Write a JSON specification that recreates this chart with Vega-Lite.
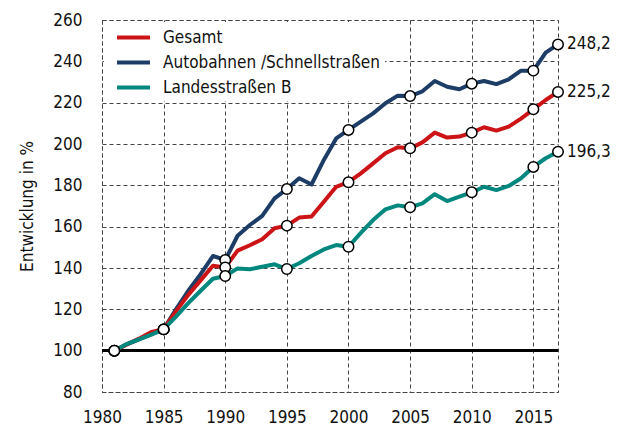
{
  "$schema": "https://vega.github.io/schema/vega-lite/v6.json",
  "width": 456,
  "height": 372,
  "autosize": "none",
  "padding": {"left": 102, "top": 20, "right": 61, "bottom": 34},
  "config": {
    "font": "DejaVu Sans Condensed, sans-serif",
    "view": {"stroke": "#444", "strokeDash": [4, 3], "strokeWidth": 1},
    "background": "white"
  },
  "data": {
    "values": [
      {"year": 1981, "series": "Autobahnen /Schnellstraßen", "value": 100},
      {"year": 1982, "series": "Autobahnen /Schnellstraßen", "value": 103},
      {"year": 1983, "series": "Autobahnen /Schnellstraßen", "value": 105.5},
      {"year": 1984, "series": "Autobahnen /Schnellstraßen", "value": 108},
      {"year": 1985, "series": "Autobahnen /Schnellstraßen", "value": 110.3},
      {"year": 1986, "series": "Autobahnen /Schnellstraßen", "value": 120},
      {"year": 1987, "series": "Autobahnen /Schnellstraßen", "value": 129},
      {"year": 1988, "series": "Autobahnen /Schnellstraßen", "value": 137},
      {"year": 1989, "series": "Autobahnen /Schnellstraßen", "value": 145.8},
      {"year": 1990, "series": "Autobahnen /Schnellstraßen", "value": 143.9},
      {"year": 1991, "series": "Autobahnen /Schnellstraßen", "value": 155.6},
      {"year": 1992, "series": "Autobahnen /Schnellstraßen", "value": 160.8},
      {"year": 1993, "series": "Autobahnen /Schnellstraßen", "value": 165.2},
      {"year": 1994, "series": "Autobahnen /Schnellstraßen", "value": 173.7},
      {"year": 1995, "series": "Autobahnen /Schnellstraßen", "value": 178.2},
      {"year": 1996, "series": "Autobahnen /Schnellstraßen", "value": 183.4},
      {"year": 1997, "series": "Autobahnen /Schnellstraßen", "value": 180.4},
      {"year": 1998, "series": "Autobahnen /Schnellstraßen", "value": 192.3},
      {"year": 1999, "series": "Autobahnen /Schnellstraßen", "value": 202.7},
      {"year": 2000, "series": "Autobahnen /Schnellstraßen", "value": 206.8},
      {"year": 2001, "series": "Autobahnen /Schnellstraßen", "value": 210.8},
      {"year": 2002, "series": "Autobahnen /Schnellstraßen", "value": 214.8},
      {"year": 2003, "series": "Autobahnen /Schnellstraßen", "value": 219.7},
      {"year": 2004, "series": "Autobahnen /Schnellstraßen", "value": 223.4},
      {"year": 2005, "series": "Autobahnen /Schnellstraßen", "value": 223.2},
      {"year": 2006, "series": "Autobahnen /Schnellstraßen", "value": 225.5},
      {"year": 2007, "series": "Autobahnen /Schnellstraßen", "value": 230.5},
      {"year": 2008, "series": "Autobahnen /Schnellstraßen", "value": 227.7},
      {"year": 2009, "series": "Autobahnen /Schnellstraßen", "value": 226.5},
      {"year": 2010, "series": "Autobahnen /Schnellstraßen", "value": 229.2},
      {"year": 2011, "series": "Autobahnen /Schnellstraßen", "value": 230.5},
      {"year": 2012, "series": "Autobahnen /Schnellstraßen", "value": 229},
      {"year": 2013, "series": "Autobahnen /Schnellstraßen", "value": 231.3},
      {"year": 2014, "series": "Autobahnen /Schnellstraßen", "value": 235.5},
      {"year": 2015, "series": "Autobahnen /Schnellstraßen", "value": 235.5},
      {"year": 2016, "series": "Autobahnen /Schnellstraßen", "value": 244.2},
      {"year": 2017, "series": "Autobahnen /Schnellstraßen", "value": 248.2, "label": "248,2"},
      {"year": 1981, "series": "Gesamt", "value": 100},
      {"year": 1982, "series": "Gesamt", "value": 103},
      {"year": 1983, "series": "Gesamt", "value": 105.8},
      {"year": 1984, "series": "Gesamt", "value": 109},
      {"year": 1985, "series": "Gesamt", "value": 110.3},
      {"year": 1986, "series": "Gesamt", "value": 119},
      {"year": 1987, "series": "Gesamt", "value": 127},
      {"year": 1988, "series": "Gesamt", "value": 134},
      {"year": 1989, "series": "Gesamt", "value": 141.1},
      {"year": 1990, "series": "Gesamt", "value": 140.3},
      {"year": 1991, "series": "Gesamt", "value": 148.4},
      {"year": 1992, "series": "Gesamt", "value": 151},
      {"year": 1993, "series": "Gesamt", "value": 153.9},
      {"year": 1994, "series": "Gesamt", "value": 159.2},
      {"year": 1995, "series": "Gesamt", "value": 160.5},
      {"year": 1996, "series": "Gesamt", "value": 164.4},
      {"year": 1997, "series": "Gesamt", "value": 164.9},
      {"year": 1998, "series": "Gesamt", "value": 172.1},
      {"year": 1999, "series": "Gesamt", "value": 179.3},
      {"year": 2000, "series": "Gesamt", "value": 181.5},
      {"year": 2001, "series": "Gesamt", "value": 185.8},
      {"year": 2002, "series": "Gesamt", "value": 190.6},
      {"year": 2003, "series": "Gesamt", "value": 195.5},
      {"year": 2004, "series": "Gesamt", "value": 198.4},
      {"year": 2005, "series": "Gesamt", "value": 197.9},
      {"year": 2006, "series": "Gesamt", "value": 200.8},
      {"year": 2007, "series": "Gesamt", "value": 205.5},
      {"year": 2008, "series": "Gesamt", "value": 203.1},
      {"year": 2009, "series": "Gesamt", "value": 203.6},
      {"year": 2010, "series": "Gesamt", "value": 205.5},
      {"year": 2011, "series": "Gesamt", "value": 208.1},
      {"year": 2012, "series": "Gesamt", "value": 206.5},
      {"year": 2013, "series": "Gesamt", "value": 208.4},
      {"year": 2014, "series": "Gesamt", "value": 212.3},
      {"year": 2015, "series": "Gesamt", "value": 216.8},
      {"year": 2016, "series": "Gesamt", "value": 221.3},
      {"year": 2017, "series": "Gesamt", "value": 225.2, "label": "225,2"},
      {"year": 1981, "series": "Landesstraßen B", "value": 100},
      {"year": 1982, "series": "Landesstraßen B", "value": 103.2},
      {"year": 1983, "series": "Landesstraßen B", "value": 105.5},
      {"year": 1984, "series": "Landesstraßen B", "value": 107.8},
      {"year": 1985, "series": "Landesstraßen B", "value": 110.3},
      {"year": 1986, "series": "Landesstraßen B", "value": 116.5},
      {"year": 1987, "series": "Landesstraßen B", "value": 123},
      {"year": 1988, "series": "Landesstraßen B", "value": 129},
      {"year": 1989, "series": "Landesstraßen B", "value": 134.8},
      {"year": 1990, "series": "Landesstraßen B", "value": 136.1},
      {"year": 1991, "series": "Landesstraßen B", "value": 139.8},
      {"year": 1992, "series": "Landesstraßen B", "value": 139.4},
      {"year": 1993, "series": "Landesstraßen B", "value": 140.6},
      {"year": 1994, "series": "Landesstraßen B", "value": 141.8},
      {"year": 1995, "series": "Landesstraßen B", "value": 139.5},
      {"year": 1996, "series": "Landesstraßen B", "value": 142.3},
      {"year": 1997, "series": "Landesstraßen B", "value": 145.8},
      {"year": 1998, "series": "Landesstraßen B", "value": 149},
      {"year": 1999, "series": "Landesstraßen B", "value": 151.1},
      {"year": 2000, "series": "Landesstraßen B", "value": 150.3},
      {"year": 2001, "series": "Landesstraßen B", "value": 157},
      {"year": 2002, "series": "Landesstraßen B", "value": 163.2},
      {"year": 2003, "series": "Landesstraßen B", "value": 168.4},
      {"year": 2004, "series": "Landesstraßen B", "value": 170.3},
      {"year": 2005, "series": "Landesstraßen B", "value": 169.4},
      {"year": 2006, "series": "Landesstraßen B", "value": 171.3},
      {"year": 2007, "series": "Landesstraßen B", "value": 175.7},
      {"year": 2008, "series": "Landesstraßen B", "value": 172.4},
      {"year": 2009, "series": "Landesstraßen B", "value": 174.5},
      {"year": 2010, "series": "Landesstraßen B", "value": 176.6},
      {"year": 2011, "series": "Landesstraßen B", "value": 179.3},
      {"year": 2012, "series": "Landesstraßen B", "value": 177.7},
      {"year": 2013, "series": "Landesstraßen B", "value": 179.7},
      {"year": 2014, "series": "Landesstraßen B", "value": 183.4},
      {"year": 2015, "series": "Landesstraßen B", "value": 188.9},
      {"year": 2016, "series": "Landesstraßen B", "value": 193.1},
      {"year": 2017, "series": "Landesstraßen B", "value": 196.3, "label": "196,3"}
    ]
  },
  "encoding": {
    "x": {
      "field": "year",
      "type": "quantitative",
      "scale": {"domain": [1980, 2017], "nice": false, "zero": false},
      "axis": {
        "title": null,
        "values": [1980, 1985, 1990, 1995, 2000, 2005, 2010, 2015],
        "format": "d",
        "domain": false,
        "ticks": false,
        "grid": true,
        "gridColor": "#444",
        "gridDash": [4, 3],
        "gridWidth": 1,
        "gridOpacity": 1,
        "labelFontSize": 17,
        "labelColor": "#111",
        "labelPadding": 17,
        "labelFlush": false
      }
    },
    "y": {
      "field": "value",
      "type": "quantitative",
      "scale": {"domain": [80, 260], "nice": false, "zero": false},
      "axis": {
        "title": "Entwicklung in %",
        "titleFontSize": 17,
        "titleFontWeight": "normal",
        "titleColor": "#111",
        "titlePadding": 16,
        "values": [80, 100, 120, 140, 160, 180, 200, 220, 240, 260],
        "domain": false,
        "ticks": false,
        "grid": true,
        "gridColor": "#444",
        "gridDash": [4, 3],
        "gridWidth": 1,
        "gridOpacity": 1,
        "labelFontSize": 17,
        "labelColor": "#111",
        "labelPadding": 20
      }
    }
  },
  "layer": [
    {
      "mark": {"type": "rule", "color": "black", "strokeWidth": 2.5},
      "encoding": {"y": {"datum": 100}, "x": null}
    },
    {
      "mark": {"type": "line", "strokeWidth": 4, "strokeJoin": "round"},
      "encoding": {
        "color": {
          "field": "series",
          "type": "nominal",
          "scale": {
            "domain": ["Gesamt", "Autobahnen /Schnellstraßen", "Landesstraßen B"],
            "range": ["#cc1417", "#1d3c66", "#00877e"]
          },
          "legend": {
            "title": null,
            "orient": "top-left",
            "offset": 2,
            "padding": 5,
            "fillColor": "white",
            "symbolType": "M-2,0H2",
            "symbolSize": 272,
            "symbolStrokeWidth": 4,
            "symbolOffset": 14,
            "labelFontSize": 17,
            "labelColor": "#111",
            "labelOffset": 19,
            "labelLimit": 0,
            "rowPadding": 6
          }
        }
      }
    },
    {
      "transform": [
        {"filter": "indexof([1981, 1985, 1990, 1995, 2000, 2005, 2010, 2015, 2017], datum.year) >= 0"}
      ],
      "mark": {"type": "point", "filled": true, "fill": "white", "stroke": "black", "strokeWidth": 1.5, "size": 110, "opacity": 1}
    },
    {
      "transform": [{"filter": "datum.year === 2017"}],
      "mark": {"type": "text", "align": "left", "baseline": "middle", "dx": 9, "fontSize": 17, "color": "#111"},
      "encoding": {"text": {"field": "label"}}
    }
  ]
}
